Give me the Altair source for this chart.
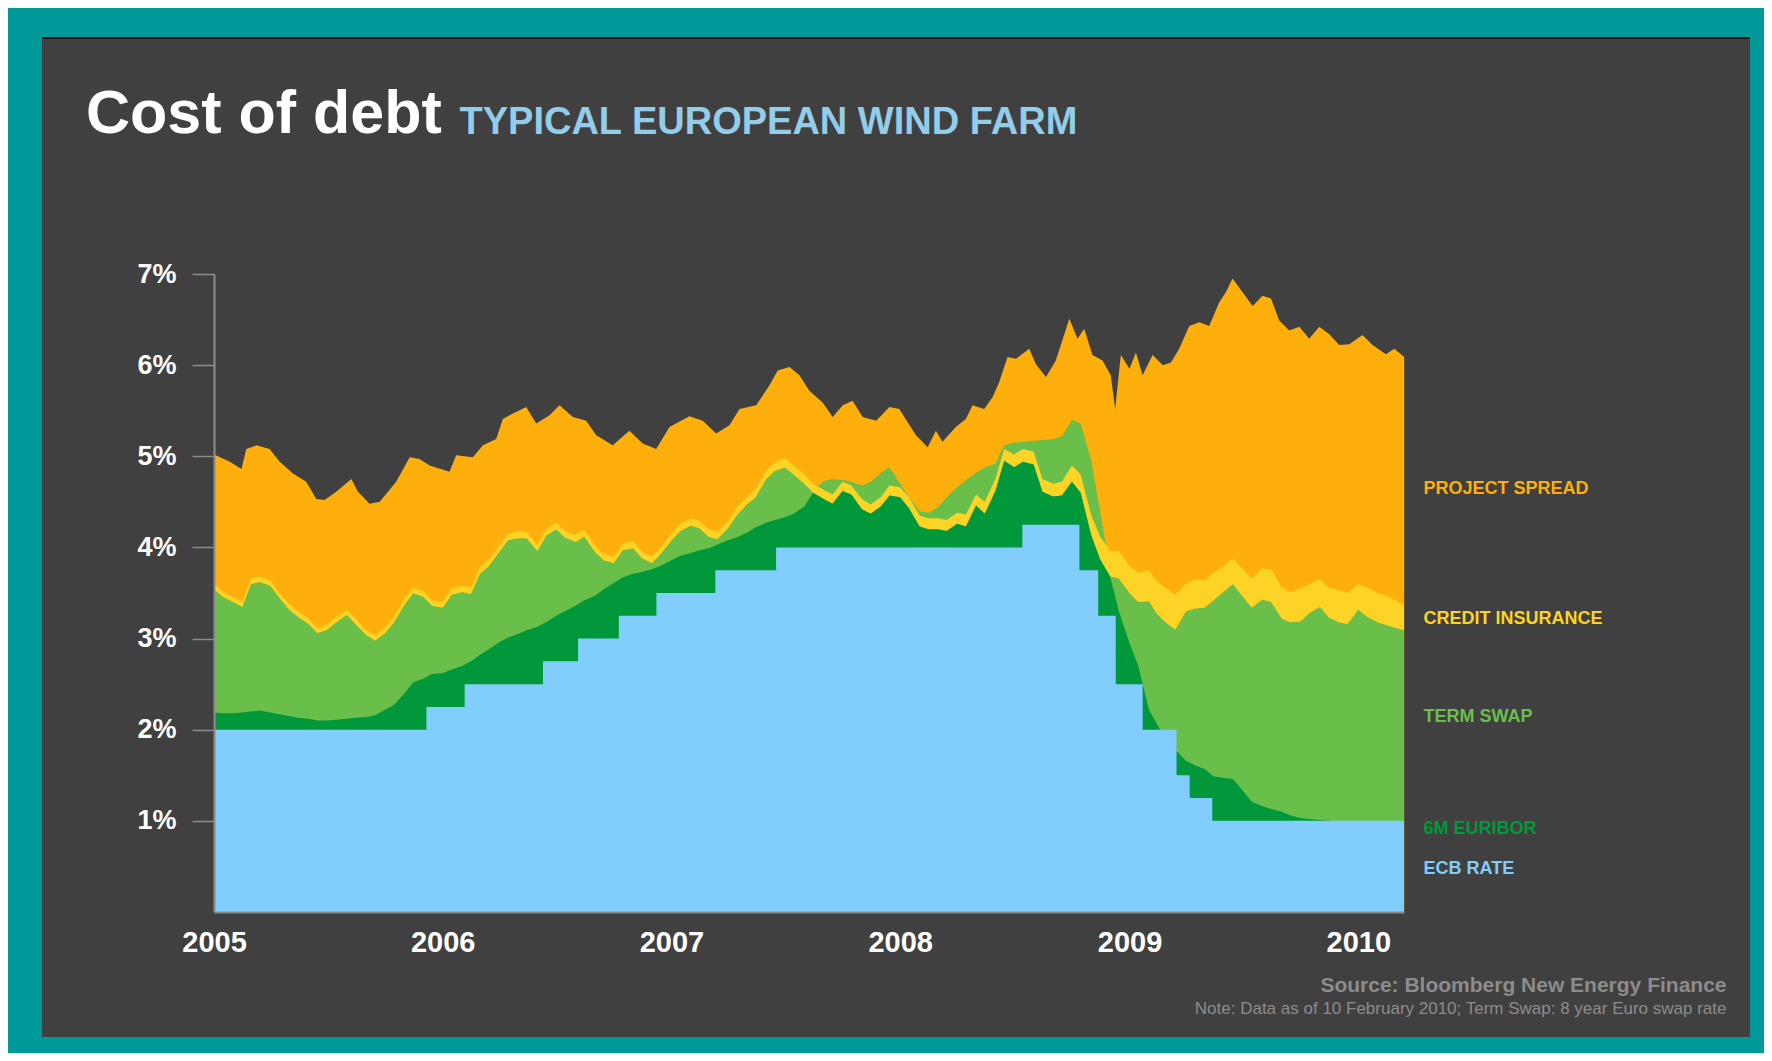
import altair as alt
import pandas as pd
import numpy as np

# ---------------- data ----------------
# Upper edge of the chart (total cost of debt), read at its visible peaks and dips
top_year = [
    2005.000, 2005.069, 2005.120, 2005.141, 2005.185, 2005.243, 2005.287, 2005.345,
    2005.403, 2005.447, 2005.483, 2005.534, 2005.600, 2005.629, 2005.680, 2005.724,
    2005.796, 2005.855, 2005.898, 2005.942, 2006.029, 2006.058, 2006.131, 2006.175,
    2006.233, 2006.262, 2006.306, 2006.364, 2006.408, 2006.466, 2006.510, 2006.568,
    2006.626, 2006.670, 2006.742, 2006.815, 2006.873, 2006.932, 2006.990, 2007.077,
    2007.135, 2007.194, 2007.252, 2007.296, 2007.369, 2007.427, 2007.463, 2007.514,
    2007.558, 2007.601, 2007.659, 2007.703, 2007.747, 2007.790, 2007.834, 2007.893,
    2007.951, 2007.994, 2008.067, 2008.118, 2008.154, 2008.183, 2008.241, 2008.285,
    2008.314, 2008.365, 2008.402, 2008.430, 2008.467, 2008.504, 2008.562, 2008.591,
    2008.635, 2008.678, 2008.737, 2008.773, 2008.802, 2008.838, 2008.882, 2008.918,
    2008.937, 2008.962, 2009.000, 2009.028, 2009.057, 2009.101, 2009.145, 2009.181,
    2009.217, 2009.261, 2009.305, 2009.348, 2009.392, 2009.421, 2009.450, 2009.494,
    2009.538, 2009.581, 2009.618, 2009.654, 2009.698, 2009.742, 2009.785, 2009.829,
    2009.873, 2009.916, 2009.960, 2010.018, 2010.062, 2010.120, 2010.157, 2010.200,
]
top_value = [
    5.02, 4.94, 4.86, 5.08, 5.12, 5.08, 4.94, 4.81,
    4.72, 4.53, 4.52, 4.61, 4.75, 4.61, 4.48, 4.50,
    4.72, 4.99, 4.97, 4.90, 4.83, 5.01, 4.99, 5.12,
    5.19, 5.41, 5.47, 5.54, 5.36, 5.45, 5.56, 5.43,
    5.39, 5.23, 5.12, 5.28, 5.14, 5.08, 5.32, 5.44,
    5.39, 5.25, 5.34, 5.52, 5.56, 5.78, 5.94, 5.98,
    5.89, 5.72, 5.59, 5.43, 5.56, 5.61, 5.43, 5.39,
    5.54, 5.52, 5.23, 5.10, 5.28, 5.16, 5.32, 5.41,
    5.56, 5.52, 5.65, 5.81, 6.09, 6.07, 6.18, 6.01,
    5.87, 6.05, 6.51, 6.29, 6.40, 6.11, 6.05, 5.89,
    5.52, 6.11, 5.96, 6.14, 5.89, 6.11, 6.00, 6.03,
    6.18, 6.43, 6.47, 6.43, 6.69, 6.80, 6.95, 6.80,
    6.65, 6.76, 6.73, 6.49, 6.38, 6.42, 6.29, 6.42,
    6.34, 6.22, 6.23, 6.33, 6.22, 6.12, 6.18, 6.09,
]

# Inner boundaries, read every half month (1st and 15th), in %
sample_dates = pd.date_range("2005-01-01", periods=126, freq="SMS")

credit_top = [
    3.60, 3.52, 3.45, 3.41, 3.66, 3.68, 3.64, 3.50, 3.38, 3.30, 3.22, 3.11,
    3.16, 3.24, 3.32, 3.22, 3.09, 3.04, 3.12, 3.24, 3.44, 3.56, 3.52, 3.42,
    3.40, 3.55, 3.58, 3.56, 3.78, 3.86, 4.02, 4.15, 4.18, 4.17, 4.03, 4.20,
    4.27, 4.18, 4.14, 4.19, 4.02, 3.93, 3.90, 4.04, 4.07, 3.95, 3.90, 4.00,
    4.15, 4.26, 4.32, 4.29, 4.20, 4.17, 4.29, 4.44, 4.55, 4.64, 4.84, 4.93,
    4.98, 4.90, 4.80, 4.70, 4.63, 4.58, 4.72, 4.68, 4.53, 4.47, 4.55, 4.68,
    4.66, 4.55, 4.35, 4.32, 4.32, 4.30, 4.38, 4.36, 4.58, 4.50, 4.75, 5.08,
    5.02, 5.08, 5.05, 4.75, 4.70, 4.72, 4.90, 4.80, 4.35, 4.12, 3.96, 3.96,
    3.80, 3.72, 3.75, 3.62, 3.55, 3.48, 3.60, 3.65, 3.64, 3.72, 3.80, 3.88,
    3.76, 3.66, 3.77, 3.76, 3.56, 3.51, 3.55, 3.60, 3.65, 3.56, 3.53, 3.50,
    3.60, 3.56, 3.50, 3.47, 3.42, 3.36,
]

credit_insurance = [
    0.06, 0.06, 0.05, 0.06, 0.06, 0.06, 0.06, 0.05, 0.06, 0.06, 0.06, 0.05,
    0.06, 0.06, 0.06, 0.06, 0.05, 0.06, 0.06, 0.06, 0.07, 0.06, 0.06, 0.06,
    0.06, 0.07, 0.07, 0.07, 0.07, 0.07, 0.07, 0.07, 0.08, 0.07, 0.07, 0.07,
    0.07, 0.07, 0.08, 0.07, 0.07, 0.07, 0.07, 0.07, 0.08, 0.07, 0.07, 0.07,
    0.07, 0.08, 0.08, 0.08, 0.08, 0.08, 0.08, 0.09, 0.08, 0.09, 0.09, 0.09,
    0.10, 0.10, 0.10, 0.10, 0.10, 0.10, 0.10, 0.10, 0.11, 0.10, 0.10, 0.11,
    0.11, 0.12, 0.12, 0.12, 0.12, 0.12, 0.12, 0.13, 0.12, 0.13, 0.13, 0.13,
    0.14, 0.14, 0.14, 0.14, 0.14, 0.15, 0.18, 0.20, 0.22, 0.25, 0.28, 0.30,
    0.30, 0.32, 0.34, 0.36, 0.38, 0.38, 0.30, 0.32, 0.30, 0.30, 0.28, 0.28,
    0.30, 0.32, 0.34, 0.36, 0.34, 0.33, 0.36, 0.32, 0.30, 0.33, 0.35, 0.34,
    0.28, 0.32, 0.32, 0.32, 0.30, 0.27,
]

euribor_6m = [
    2.19, 2.18, 2.18, 2.19, 2.20, 2.21, 2.19, 2.17, 2.15, 2.13, 2.12, 2.10,
    2.10, 2.11, 2.12, 2.13, 2.14, 2.16, 2.22, 2.27, 2.40, 2.52, 2.56, 2.61,
    2.62, 2.66, 2.70, 2.75, 2.82, 2.88, 2.96, 3.01, 3.05, 3.09, 3.13, 3.18,
    3.25, 3.30, 3.36, 3.42, 3.47, 3.54, 3.61, 3.67, 3.71, 3.73, 3.76, 3.80,
    3.86, 3.91, 3.94, 3.97, 3.99, 4.03, 4.08, 4.11, 4.16, 4.22, 4.27, 4.30,
    4.33, 4.37, 4.45, 4.62, 4.73, 4.75, 4.74, 4.72, 4.68, 4.72, 4.82, 4.88,
    4.70, 4.55, 4.40, 4.38, 4.44, 4.55, 4.66, 4.74, 4.82, 4.88, 4.92, 5.12,
    5.15, 5.16, 5.17, 5.18, 5.19, 5.22, 5.40, 5.36, 4.95, 4.40, 3.75, 3.30,
    2.95, 2.70, 2.22, 2.05, 1.88, 1.78, 1.66, 1.61, 1.57, 1.49, 1.47, 1.46,
    1.33, 1.21, 1.16, 1.13, 1.10, 1.06, 1.03, 1.02, 1.01, 1.00, 0.99, 0.99,
    0.98, 0.98, 0.97, 0.97, 0.96, 0.96,
]

ecb_dates = ["2005-01-01", "2005-12-06", "2006-02-05", "2006-06-10", "2006-08-05",
             "2006-10-09", "2006-12-08", "2007-03-12", "2007-06-17", "2008-07-14",
             "2008-10-13", "2008-11-12", "2008-12-10", "2009-01-22", "2009-03-17",
             "2009-04-07", "2009-05-13", "2010-03-15"]
ecb_rate = [2.00, 2.25, 2.50, 2.75, 3.00, 3.25, 3.50, 3.75, 4.00, 4.25,
            3.75, 3.25, 2.50, 2.00, 1.50, 1.25, 1.00, 1.00]

year_ticks = [2005, 2006, 2007, 2008, 2009, 2010]
pct_ticks = [1, 2, 3, 4, 5, 6, 7]

series_labels = ["PROJECT SPREAD", "CREDIT INSURANCE", "TERM SWAP", "6M EURIBOR", "ECB RATE"]

# ---------------- styling ----------------
TEAL = "#009999"
PANEL = "#404040"
ORANGE = "#FFAF0B"
YELLOW = "#FDD426"
LGREEN = "#6ABF4B"
DGREEN = "#00983A"
LBLUE = "#81CDFC"
TITLE_BLUE = "#93CDEA"
GRAY = "#8C8C8C"
FONT = "Liberation Sans"
label_colors = [ORANGE, YELLOW, LGREEN, DGREEN, LBLUE]
label_y = [214.5, 344.5, 442.5, 554.5, 594.5]

W, H = 1190, 638

start = pd.Timestamp("2005-01-01")
top_df = pd.DataFrame({
    "date": start + pd.to_timedelta((np.array(top_year) - 2005.0) * 365.25, unit="D"),
    "total": top_value,
})

df = pd.DataFrame({
    "date": sample_dates,
    "credit_top": credit_top,
    "ins": credit_insurance,
    "euribor": euribor_6m,
})
df["swap"] = df["credit_top"] - df["ins"]
df["green_hi"] = np.maximum(df["euribor"], df["swap"])
df["green_lo"] = np.minimum(df["euribor"], df["swap"])

ecb_df = pd.DataFrame({"date": pd.to_datetime(ecb_dates), "ecb": ecb_rate})

x_scale = alt.Scale(domain=[alt.DateTime(year=2005, month=1, date=1),
                            alt.DateTime(year=2010, month=3, date=15)], nice=False)
y_scale = alt.Scale(domain=[0, 7], nice=False)

x_axis = alt.Axis(values=[alt.DateTime(year=yv, month=1, date=1) for yv in year_ticks],
                  format="%Y", title=None, grid=False, ticks=False, tickSize=0,
                  domainColor=GRAY, domainWidth=2, labelColor="white", labelFont=FONT,
                  labelFontSize=29, labelFontWeight="bold", labelPadding=16,
                  labelFlush=False, labelOverlap=False, zindex=1)
y_axis = alt.Axis(values=pct_ticks, labelExpr="datum.value + '%'", title=None, grid=False,
                  domainColor=GRAY, domainWidth=2, tickColor=GRAY, tickWidth=1.5,
                  tickSize=22, labelColor="white", labelFont=FONT, labelFontSize=27,
                  labelFontWeight="bold", labelPadding=16, zindex=1)

X = alt.X("date:T", scale=x_scale, axis=x_axis)


def Y(field):
    return alt.Y(f"{field}:Q", scale=y_scale, axis=y_axis)


one = pd.DataFrame({"k": [0]})

panel = alt.Chart(one).mark_rect(color=PANEL).encode(
    x=alt.value(-172), x2=alt.value(1536), y=alt.value(-236), y2=alt.value(763))
panel_edge = alt.Chart(one).mark_rect(color="#111111").encode(
    x=alt.value(-172), x2=alt.value(1536), y=alt.value(-237), y2=alt.value(-235))

base = alt.Chart(df)
orange = alt.Chart(top_df).mark_area(color=ORANGE).encode(x=X, y=Y("total"))
lgreen = base.mark_area(color=LGREEN).encode(x=X, y=Y("green_hi"))
yellow = base.mark_area(color=YELLOW).encode(x=X, y=Y("credit_top"), y2="swap:Q")
dgreen = base.mark_area(color=DGREEN).encode(x=X, y=Y("green_lo"))
blue = alt.Chart(ecb_df).mark_area(color=LBLUE, interpolate="step-after").encode(x=X, y=Y("ecb"))


def txt(text, x, y, size, color, weight="bold", align="left", baseline="alphabetic"):
    return alt.Chart(one).mark_text(
        text=text, align=align, baseline=baseline, fontSize=size, fontWeight=weight,
        color=color, font=FONT).encode(x=alt.value(x), y=alt.value(y))


texts = [
    txt("Cost of debt", -128, -141, 61, "white"),
    txt("TYPICAL EUROPEAN WIND FARM", 245.5, -140.5, 38, TITLE_BLUE),
    txt("Source: Bloomberg New Energy Finance", 1512.5, 717.5, 21, GRAY, align="right"),
    txt("Note: Data as of 10 February 2010; Term Swap: 8 year Euro swap rate",
        1512.5, 739.5, 17, GRAY, weight="normal", align="right"),
]
for lab, col, yy in zip(series_labels, label_colors, label_y):
    texts.append(txt(lab, 1209.5, yy, 18, col, baseline="middle"))

chart = alt.layer(panel, panel_edge, orange, lgreen, yellow, dgreen, blue, *texts).properties(
    width=W, height=H,
    autosize=alt.AutoSizeParams(type="none"),
    padding={"left": 206, "top": 266, "right": 360, "bottom": 141},
    background=TEAL,
).configure_view(strokeWidth=0)

chart.save("out.html", embed_options={"renderer": "svg", "actions": False})
